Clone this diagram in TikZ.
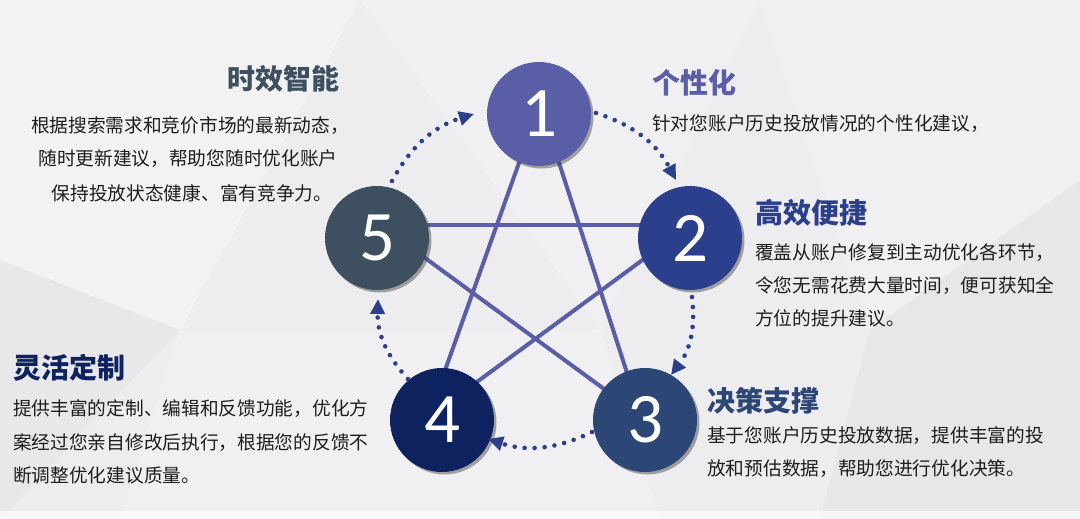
\documentclass[tikz,border=0pt]{standalone}
\usepackage{fontspec}
\newfontfamily\cjk{Noto Sans CJK SC}
\newfontfamily\digitfont{Carlito}
\usetikzlibrary{arrows.meta,shadows}
\definecolor{c1}{HTML}{5A5EA6}
\definecolor{c2}{HTML}{2B3F8C}
\definecolor{c3}{HTML}{2C4676}
\definecolor{c4}{HTML}{0E2260}
\definecolor{c5}{HTML}{3E4F60}
\definecolor{starline}{HTML}{5A5EA6}
\definecolor{dotblue}{HTML}{2B3F8C}
\definecolor{bodytext}{HTML}{1E1E1E}
\definecolor{bgbase}{HTML}{EDEDEF}
\begin{document}
\begin{tikzpicture}[x=1pt,y=-1pt,
  numcircle/.style={circle, minimum size=104pt, inner sep=0pt, text=white,
    font=\digitfont\fontsize{71}{71}\selectfont,
    drop shadow={shadow xshift=2.5pt, shadow yshift=-2.5pt, opacity=0.45, fill=black!75}},
  starstroke/.style={draw=starline, line width=4pt},
  dotarrow/.style={draw=dotblue, line width=4.6pt, line cap=round,
    dash pattern=on 0pt off 10pt,
    -{Triangle[length=15pt,width=14pt,line cap=butt,line join=miter]}, bend left=22},
  titletext/.style={anchor=base west, inner sep=0pt, font=\cjk\bfseries\fontsize{28}{28}\selectfont},
  bodyline/.style={anchor=base west, inner sep=0pt, text=bodytext, font=\cjk\fontsize{18.7}{18.7}\selectfont},
  bodycenter/.style={anchor=base, inner sep=0pt, text=bodytext, font=\cjk\fontsize{18.7}{18.7}\selectfont},
]
% background
\fill[bgbase] (0,0) rectangle (1080,519);
\fill[white, opacity=0.3] (0,0) -- (360,0) -- (180,330) -- (0,260) -- cycle;
\fill[white, opacity=0.2] (360,0) -- (760,0) -- (600,330) -- cycle;
\fill[black, opacity=0.02] (0,260) -- (180,330) -- (0,519) -- cycle;
\fill[white, opacity=0.2] (760,0) -- (1080,0) -- (1080,180) -- (870,330) -- cycle;
\fill[black, opacity=0.025] (1080,180) -- (1080,519) -- (820,519) -- (870,330) -- cycle;
\fill[white, opacity=0.2] (180,330) -- (600,330) -- (660,519) -- (120,519) -- cycle;
\fill[white, opacity=0.6] (0,511) rectangle (1080,519);
\useasboundingbox (0,0) rectangle (1080,519);

% star vertices
\coordinate (v1) at (540,104);
\coordinate (v2) at (690,225);
\coordinate (v3) at (641,416);
\coordinate (v4) at (428,418);
\coordinate (v5) at (380,225);
\draw[starstroke] (v1) -- (v4);
\draw[starstroke] (v1) -- (v3);
\draw[starstroke] (v5) -- (v2);
\draw[starstroke] (v5) -- (v3);
\draw[starstroke] (v2) -- (v4);

% circles
\node[numcircle, fill=c1] (n1) at (539,114) {1};
\node[numcircle, fill=c2] (n2) at (690,238) {2};
\node[numcircle, fill=c3] (n3) at (645,420) {3};
\node[numcircle, fill=c4] (n4) at (442,420) {4};
\node[numcircle, fill=c5] (n5) at (377,238) {5};

% dotted arrows
\coordinate (a1s) at (596,113); \coordinate (a1e) at (676,180);
\coordinate (a2s) at (692,297); \coordinate (a2e) at (671,375);
\coordinate (a3s) at (592,432); \coordinate (a3e) at (488,439);
\coordinate (a4s) at (408,379); \coordinate (a4e) at (378,299);
\coordinate (a5s) at (392,181); \coordinate (a5e) at (474,114);
\draw[dotarrow] (a1s) to (a1e);
\draw[dotarrow] (a2s) to (a2e);
\draw[dotarrow] (a3s) to (a3e);
\draw[dotarrow] (a4s) to (a4e);
\draw[dotarrow] (a5s) to (a5e);

% texts: 时效智能
\node[titletext, text=c5] (t5) at (227,90) {时效智能};
\node[bodycenter] (b5a) at (190,132) {根据搜索需求和竞价市场的最新动态，};
\node[bodycenter] (b5b) at (188,165) {随时更新建议，帮助您随时优化账户};
\node[bodycenter] (b5c) at (192,200) {保持投放状态健康、富有竞争力。};

% 个性化
\node[titletext, text=c1] (t1) at (652,94) {个性化};
\node[bodyline] (b1a) at (652,130) {针对您账户历史投放情况的个性化建议，};

% 高效便捷
\node[titletext, text=c2] (t2) at (755,223) {高效便捷};
\node[bodyline] (b2a) at (755,259) {覆盖从账户修复到主动优化各环节，};
\node[bodyline] (b2b) at (755,292) {令您无需花费大量时间，便可获知全};
\node[bodyline] (b2c) at (755,325) {方位的提升建议。};

% 决策支撑
\node[titletext, text=c3] (t3) at (707,411) {决策支撑};
\node[bodyline] (b3a) at (707,442) {基于您账户历史投放数据，提供丰富的投};
\node[bodyline] (b3b) at (707,475) {放和预估数据，帮助您进行优化决策。};

% 灵活定制
\node[titletext, text=c4] (t4) at (13,378) {灵活定制};
\node[bodyline] (b4a) at (13,415) {提供丰富的定制、编辑和反馈功能，优化方};
\node[bodyline] (b4b) at (13,449) {案经过您亲自修改后执行，根据您的反馈不};
\node[bodyline] (b4c) at (13,482) {断调整优化建议质量。};
\end{tikzpicture}
\end{document}
